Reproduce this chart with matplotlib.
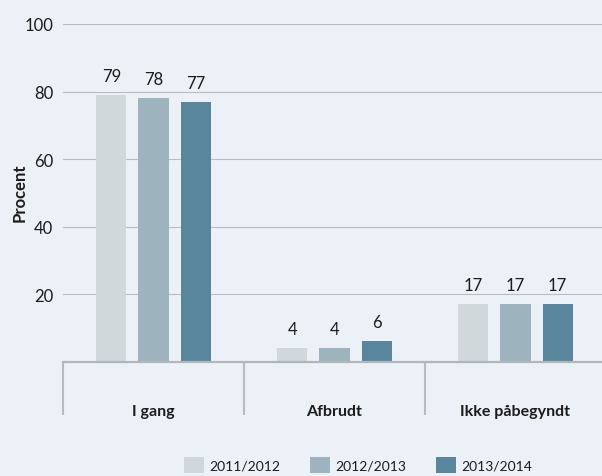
import matplotlib
matplotlib.use("Agg")
import matplotlib.pyplot as plt
from matplotlib.patches import Patch
import numpy as np

categories = ["I gang", "Afbrudt", "Ikke påbegyndt"]
series_names = ["2011/2012", "2012/2013", "2013/2014"]
values_2011_2012 = [79, 4, 17]
values_2012_2013 = [78, 4, 17]
values_2013_2014 = [77, 6, 17]
yticks = [20, 40, 60, 80, 100]

colors = ["#d0d8dc", "#9db3bd", "#5a869d"]
bg = "#ecf0f7"
grid_col = "#b9bdc1"
text_col = "#1c1c1c"

plt.rcParams["font.family"] = ["Lato", "DejaVu Sans"]

W, H = 602, 477
fig = plt.figure(figsize=(W / 100, H / 100), dpi=100, facecolor=bg)
left_px, right_px, top_px, zero_px = 63, 602, 25, 362.7
ax = fig.add_axes([left_px / W, 1 - zero_px / H,
                   (right_px - left_px) / W, (zero_px - top_px) / H])
ax.set_facecolor(bg)

x = np.arange(len(categories))
step = 0.233
width = 0.166
all_series = [values_2011_2012, values_2012_2013, values_2013_2014]
for i, (vals, col) in enumerate(zip(all_series, colors)):
    bars = ax.bar(x + (i - 1) * step, vals, width, color=col, zorder=3,
                  label=series_names[i])
    ax.bar_label(bars, labels=[str(v) for v in vals], padding=8,
                 fontsize=12, color=text_col)

ax.set_xlim(-0.5, 2.478)
ax.set_ylim(0, 100)

# horizontal gridlines
for t in yticks:
    ax.axhline(t, color=grid_col, lw=0.8, zorder=1)
ax.axhline(0, color="#b2b6ba", lw=1.6, zorder=4, clip_on=False)

for s in ax.spines.values():
    s.set_visible(False)

ax.set_yticks(yticks)
ax.set_yticklabels([str(t) for t in yticks], fontsize=12, color=text_col)
ax.tick_params(axis="y", length=0, pad=7)
ax.set_xticks([])

# category separators and labels below the axis
trans = ax.get_xaxis_transform()
ax_h_px = zero_px - top_px
sep_depth = -53 / ax_h_px
for b in [-0.5, 0.5, 1.5]:
    ax.plot([b, b], [0, sep_depth], transform=trans, color="#b8bcc0",
            lw=1.5, clip_on=False, solid_capstyle="butt")
for xi, cat in zip(x, categories):
    ax.text(xi, -53.5 / ax_h_px, cat, transform=trans, ha="center",
            va="baseline", fontsize=11.5, fontweight="bold", color=text_col)

fig.text(20 / W, 1 - 193 / H, "Procent", rotation=90, ha="center",
         va="center", fontsize=12, fontweight="bold", color=text_col)

handles = [Patch(facecolor=c, edgecolor="none") for c in colors]
fig.legend(handles, series_names, loc="center", ncol=3, frameon=False,
           bbox_to_anchor=(358 / W, 1 - 466 / H), fontsize=10,
           handlelength=1.44, handleheight=1.44, handletextpad=0.36,
           columnspacing=2.15, labelcolor=text_col)

fig.savefig("out.png", dpi=100, facecolor=bg)
